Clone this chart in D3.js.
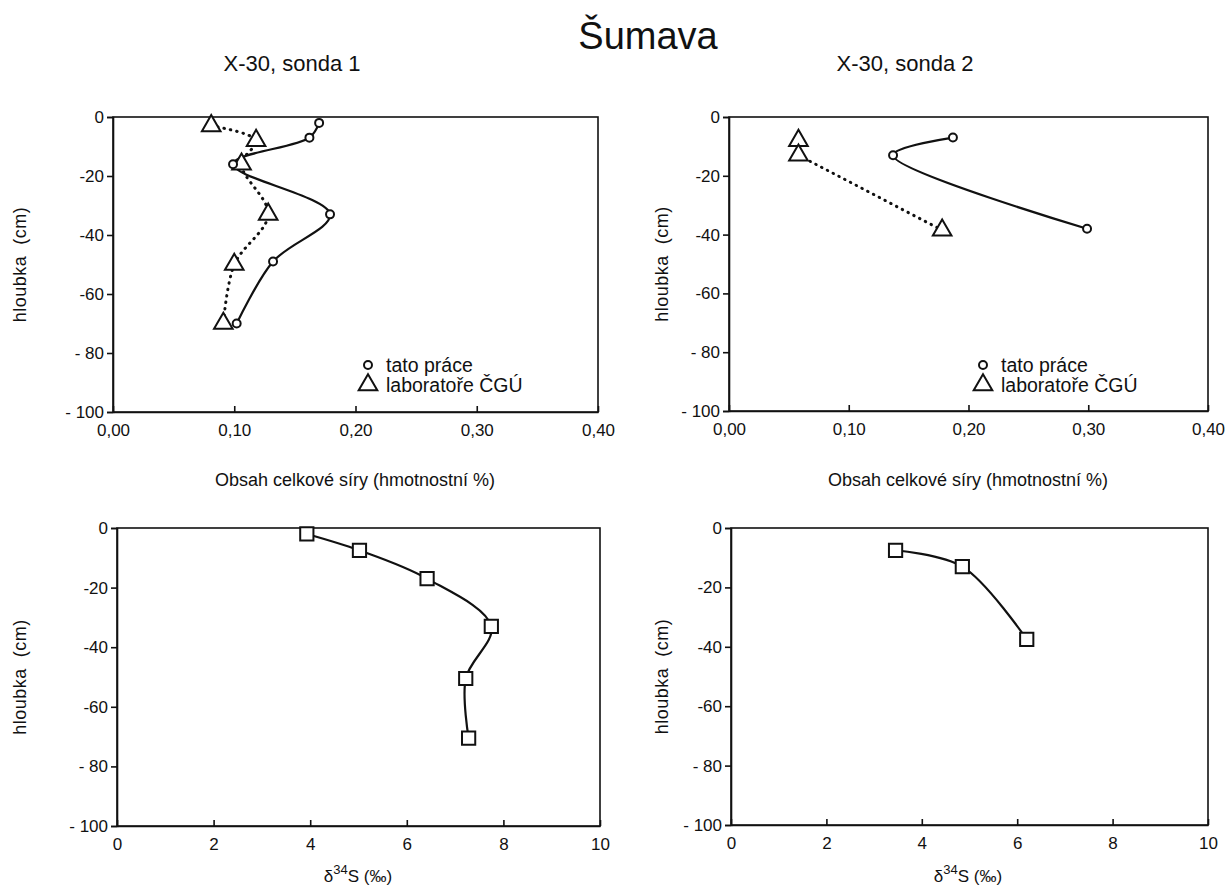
<!DOCTYPE html>
<html>
<head>
<meta charset="utf-8">
<script src="https://cdn.jsdelivr.net/npm/d3@7"></script>
<style>
  body { margin: 0; background: #fff; }
  svg text { font-family: "Liberation Sans", "DejaVu Sans", sans-serif; fill: #111; }
</style>
</head>
<body>
<div class="container"></div>
<script>
// tick values
var depthTicks = [0, -20, -40, -60, -80, -100];
var sulfurTicks = [0, 0.1, 0.2, 0.3, 0.4];
var deltaTicks = [0, 2, 4, 6, 8, 10];

// sonda 1 - total sulphur
var s1TatoDepth = [-2, -7, -16, -33, -49, -70];
var s1TatoS = [0.17, 0.162, 0.099, 0.179, 0.132, 0.102];
var s1LabDepth = [-3, -8, -16, -33, -50, -70];
var s1LabS = [0.081, 0.118, 0.106, 0.128, 0.100, 0.091];

// sonda 2 - total sulphur
var s2TatoDepth = [-7, -13, -38];
var s2TatoS = [0.187, 0.137, 0.299];
var s2LabDepth = [-8, -13, -38.5];
var s2LabS = [0.058, 0.058, 0.178];

// delta 34S
var s1DeltaDepth = [-2, -7.5, -17, -33, -50.5, -70.5];
var s1Delta = [3.93, 5.02, 6.42, 7.75, 7.22, 7.28];
var s2DeltaDepth = [-7.5, -13, -37.5];
var s2Delta = [3.45, 4.85, 6.2];

var W = 1226, H = 888;
var svg = d3.select(".container").append("svg")
    .attr("width", W)
    .attr("height", H);

var czFormat = d3.formatLocale({decimal: ",", thousands: " ", grouping: [3], currency: ["", ""]}).format(".2f");
// the original drawing spaces out the two lowest labels
var depthFormat = function(d) {
  if (d === 0) return "0";
  return (d <= -80 ? "- " : "-") + Math.abs(d);
};

function zip(xs, ys) { return xs.map(function(v, i) { return [v, ys[i]]; }); }

// one panel: box, axes, labels
function panel(p) {
  var x = d3.scaleLinear().domain(p.xDomain).range([p.left, p.right]);
  var y = d3.scaleLinear().domain([0, -100]).range([p.top, p.bottom]);
  var g = svg.append("g");

  // frame
  g.append("rect")
    .attr("x", p.left).attr("y", p.top)
    .attr("width", p.right - p.left).attr("height", p.bottom - p.top)
    .attr("fill", "none").attr("stroke", "#111").attr("stroke-width", 1.6);

  var yAxis = g.append("g")
    .attr("transform", "translate(" + p.left + ",0)")
    .call(d3.axisLeft(y).tickValues(depthTicks).tickFormat(depthFormat).tickSize(6).tickPadding(3));
  var xAxis = g.append("g")
    .attr("transform", "translate(0," + p.bottom + ")")
    .call(d3.axisBottom(x).tickValues(p.xTicks).tickFormat(p.xFormat).tickSizeInner(-6).tickSizeOuter(0).tickPadding(12));
  [yAxis, xAxis].forEach(function(a) {
    a.select(".domain").attr("stroke", "#111").attr("stroke-width", 1.6);
    a.selectAll(".tick line").attr("stroke", "#111").attr("stroke-width", 1.6);
    a.selectAll(".tick text").style("font-size", "17px").attr("fill", "#111");
  });

  // y label
  g.append("text")
    .attr("transform", "translate(" + p.yLabelX + "," + ((p.top + p.bottom) / 2) + ") rotate(-90)")
    .attr("text-anchor", "middle")
    .attr("dy", "0.35em")
    .style("font-size", "18px")
    .style("letter-spacing", "0.5px")
    .text("hloubka  (cm)")
    .attr("xml:space", "preserve");

  return {x: x, y: y, g: g};
}

function drawLine(pn, pts, dotted) {
  var line = d3.line()
    .x(function(d) { return pn.x(d[0]); })
    .y(function(d) { return pn.y(d[1]); })
    .curve(d3.curveCatmullRom.alpha(0.5));
  var path = pn.g.append("path")
    .attr("d", line(pts))
    .attr("fill", "none")
    .attr("stroke", "#111");
  if (dotted) {
    path.attr("stroke-width", 3).attr("stroke-dasharray", "0.5,6").attr("stroke-linecap", "round");
  } else {
    path.attr("stroke-width", 2.2);
  }
}

function drawMarks(pn, pts, type, size) {
  pn.g.selectAll(null)
    .data(pts)
    .enter().append("path")
    .attr("transform", function(d) { return "translate(" + pn.x(d[0]) + "," + pn.y(d[1]) + ")"; })
    .attr("d", d3.symbol().type(type).size(size))
    .attr("fill", "#fff")
    .attr("stroke", "#111")
    .attr("stroke-width", 2);
}

function legend(left, top) {
  var g = svg.append("g").attr("transform", "translate(" + left + "," + top + ")");
  g.append("path").attr("d", d3.symbol().type(d3.symbolCircle).size(50)())
    .attr("fill", "#fff").attr("stroke", "#111").attr("stroke-width", 2);
  g.append("path").attr("transform", "translate(0,20)")
    .attr("d", d3.symbol().type(d3.symbolTriangle).size(150)())
    .attr("fill", "#fff").attr("stroke", "#111").attr("stroke-width", 2);
  g.append("text").attr("x", 18).attr("y", 0).attr("dy", "0.35em").style("font-size", "19.5px").text("tato práce");
  g.append("text").attr("x", 18).attr("y", 20).attr("dy", "0.35em").style("font-size", "19.5px").text("laboratoře ČGÚ");
}

// titles
svg.append("text").attr("x", 648).attr("y", 49).attr("text-anchor", "middle")
  .style("font-size", "38px").text("Šumava");
svg.append("text").attr("x", 292).attr("y", 71).attr("text-anchor", "middle")
  .style("font-size", "22px").text("X-30, sonda 1");
svg.append("text").attr("x", 905).attr("y", 71).attr("text-anchor", "middle")
  .style("font-size", "22px").text("X-30, sonda 2");

// top left
var p1 = panel({left: 113, right: 598, top: 117, bottom: 412, xDomain: [0, 0.4], xTicks: sulfurTicks, xFormat: czFormat, yLabelX: 20});
drawLine(p1, zip(s1LabS, s1LabDepth), true);
drawLine(p1, zip(s1TatoS, s1TatoDepth), false);
drawMarks(p1, zip(s1LabS, s1LabDepth), d3.symbolTriangle, 150);
drawMarks(p1, zip(s1TatoS, s1TatoDepth), d3.symbolCircle, 50);
legend(368, 365);

// top right
var p2 = panel({left: 729, right: 1208, top: 117, bottom: 411, xDomain: [0, 0.4], xTicks: sulfurTicks, xFormat: czFormat, yLabelX: 662});
drawLine(p2, zip(s2LabS, s2LabDepth).slice(1), true);
drawLine(p2, zip(s2TatoS, s2TatoDepth), false);
drawMarks(p2, zip(s2LabS, s2LabDepth), d3.symbolTriangle, 150);
drawMarks(p2, zip(s2TatoS, s2TatoDepth), d3.symbolCircle, 50);
legend(983, 365);

// x labels of the top row
svg.append("text").attr("x", 355).attr("y", 486).attr("text-anchor", "middle")
  .style("font-size", "18px").text("Obsah celkové síry (hmotnostní %)");
svg.append("text").attr("x", 968).attr("y", 486).attr("text-anchor", "middle")
  .style("font-size", "18px").text("Obsah celkové síry (hmotnostní %)");

// bottom left
var p3 = panel({left: 117, right: 600, top: 528, bottom: 826, xDomain: [0, 10], xTicks: deltaTicks, xFormat: d3.format("d"), yLabelX: 20});
drawLine(p3, zip(s1Delta, s1DeltaDepth), false);
drawMarks(p3, zip(s1Delta, s1DeltaDepth), d3.symbolSquare, 175);

// bottom right
var p4 = panel({left: 731, right: 1208, top: 528, bottom: 825, xDomain: [0, 10], xTicks: deltaTicks, xFormat: d3.format("d"), yLabelX: 662});
drawLine(p4, zip(s2Delta, s2DeltaDepth), false);
drawMarks(p4, zip(s2Delta, s2DeltaDepth), d3.symbolSquare, 175);

// delta labels
[358, 968].forEach(function(cx) {
  var t = svg.append("text").attr("x", cx).attr("y", 882).attr("text-anchor", "middle").style("font-size", "17px");
  t.append("tspan").text("δ");
  t.append("tspan").attr("dy", -8).style("font-size", "13px").text("34");
  t.append("tspan").attr("dy", 8).text("S (‰)");
});
</script>
</body>
</html>
